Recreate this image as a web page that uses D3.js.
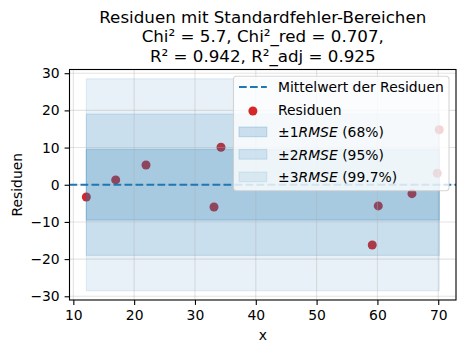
<!DOCTYPE html>
<html>
<head>
<meta charset="utf-8">
<script src="https://cdn.jsdelivr.net/npm/d3@7/dist/d3.min.js"></script>
<style>
	body { margin: 0; background: #fff; }
	svg { display: block; font-family: "DejaVu Sans", sans-serif; }
</style>
</head>
<body>
<svg id="chart"></svg>
<script>
// ------- DATA ------- //
const xValues = [12.14, 16.97, 21.95, 33.13, 34.28, 59.15, 60.14, 65.68, 69.84, 70.17]
const residuals = [-3.3, 1.3, 5.3, -6.0, 10.1, -16.2, -5.7, -2.4, 3.1, 14.8]
const rmse = 9.5
const meanResidual = 0
const bandFactors = [1, 2, 3]
const bandPercents = ['68%', '95%', '99.7%']
const bandAlphas = [0.2, 0.15, 0.1]
const xTicks = [10, 20, 30, 40, 50, 60, 70]
const yTicks = [-30, -20, -10, 0, 10, 20, 30]
const titleLines = [
	'Residuen mit Standardfehler-Bereichen',
	'Chi² = 5.7, Chi²_red = 0.707,',
	'R² = 0.942, R²_adj = 0.925'
]

const width = 466
const height = 353
const margin = { top: 69.5, right: 10, bottom: 53, left: 69.5 }
const blue = '31,119,180'
const red = '#d62728'
const fontSize = 13.9

const svg = d3.select('#chart')
	.attr('width', width)
	.attr('height', height)

const x = d3.scaleLinear().domain([9.37, 72.92]).range([margin.left, width - margin.right])
const y = d3.scaleLinear().domain([-31, 31]).range([height - margin.bottom, margin.top])

const plot = svg.append('g')

// scatter first, bands are painted over it (same as matplotlib zorder)
plot.selectAll('circle.res')
	.data(xValues.map((d, i) => ({ x: d, y: residuals[i] })))
	.enter().append('circle')
	.attr('class', 'res')
	.attr('cx', d => x(d.x))
	.attr('cy', d => y(d.y))
	.attr('r', 4.5)
	.attr('fill', red)

const xMin = d3.min(xValues)
const xMax = d3.max(xValues)
plot.selectAll('rect.band')
	.data(bandFactors)
	.enter().append('rect')
	.attr('class', 'band')
	.attr('x', x(xMin))
	.attr('width', x(xMax) - x(xMin))
	.attr('y', k => y(meanResidual + k * rmse))
	.attr('height', k => y(meanResidual - k * rmse) - y(meanResidual + k * rmse))
	.attr('fill', (k, i) => `rgba(${blue},${bandAlphas[i]})`)
	.attr('stroke', (k, i) => `rgba(${blue},${bandAlphas[i]})`)
	.attr('stroke-width', 1.2)

// grid
const grid = svg.append('g').attr('stroke', '#b0b0b0').attr('stroke-opacity', 0.35).attr('stroke-width', 1.1)
grid.selectAll('line.gx').data(xTicks).enter().append('line')
	.attr('x1', d => x(d)).attr('x2', d => x(d))
	.attr('y1', margin.top).attr('y2', height - margin.bottom)
grid.selectAll('line.gy').data(yTicks).enter().append('line')
	.attr('y1', d => y(d)).attr('y2', d => y(d))
	.attr('x1', margin.left).attr('x2', width - margin.right)

// mean line
svg.append('line')
	.attr('x1', margin.left).attr('x2', width - margin.right)
	.attr('y1', y(meanResidual)).attr('y2', y(meanResidual))
	.attr('stroke', `rgb(${blue})`)
	.attr('stroke-width', 2.1)
	.attr('stroke-dasharray', '7.7,3.3')

// axes
const xAxis = svg.append('g')
	.attr('transform', `translate(0,${height - margin.bottom})`)
	.call(d3.axisBottom(x).tickValues(xTicks).tickSize(4.9).tickPadding(4.9))
const yAxis = svg.append('g')
	.attr('transform', `translate(${margin.left},0)`)
	.call(d3.axisLeft(y).tickValues(yTicks).tickSize(4.9).tickPadding(4.9).tickFormat(d => d < 0 ? '\u2212' + Math.abs(d) : d))
for (const ax of [xAxis, yAxis]) {
	ax.select('.domain').remove()
	ax.selectAll('line').attr('stroke', '#000').attr('stroke-width', 1.1)
	ax.selectAll('text').attr('font-size', fontSize).attr('font-family', 'DejaVu Sans').attr('fill', '#000')
}

svg.append('rect')
	.attr('x', margin.left).attr('y', margin.top)
	.attr('width', width - margin.right - margin.left)
	.attr('height', height - margin.bottom - margin.top)
	.attr('fill', 'none').attr('stroke', '#000').attr('stroke-width', 1.1)

// labels
svg.append('text')
	.attr('x', (margin.left + width - margin.right) / 2)
	.attr('y', 340)
	.attr('text-anchor', 'middle')
	.attr('font-size', fontSize)
	.text('x')
svg.append('text')
	.attr('transform', `translate(22,${(margin.top + height - margin.bottom) / 2}) rotate(-90)`)
	.attr('text-anchor', 'middle')
	.attr('font-size', fontSize)
	.text('Residuen')

svg.append('g').selectAll('text')
	.data(titleLines)
	.enter().append('text')
	.attr('x', (margin.left + width - margin.right) / 2)
	.attr('y', (d, i) => 22.5 + i * 19.5)
	.attr('text-anchor', 'middle')
	.attr('font-size', 16.7)
	.text(d => d)

// ------- LEGEND ------- //
const legend = svg.append('g')
const lgX = 233.5, lgY = 76.2, lgW = 215.5, lgH = 114.5
legend.append('rect')
	.attr('x', lgX).attr('y', lgY).attr('width', lgW).attr('height', lgH)
	.attr('rx', 3).attr('ry', 3)
	.attr('fill', 'rgba(255,255,255,0.8)')
	.attr('stroke', 'rgba(204,204,204,0.8)')
	.attr('stroke-width', 1.1)

const rowY = i => 87 + i * 22.5
const hx0 = 239, hx1 = 266.8, tx = 278

legend.append('line')
	.attr('x1', hx0).attr('x2', hx1)
	.attr('y1', rowY(0)).attr('y2', rowY(0))
	.attr('stroke', `rgb(${blue})`)
	.attr('stroke-width', 2.1)
	.attr('stroke-dasharray', '7.7,3.3')
legend.append('circle')
	.attr('cx', (hx0 + hx1) / 2).attr('cy', rowY(1) + 1.5)
	.attr('r', 4.5).attr('fill', red)
bandFactors.forEach((k, i) => {
	legend.append('rect')
		.attr('x', hx0).attr('y', rowY(i + 2) - 5)
		.attr('width', hx1 - hx0).attr('height', 9.7)
		.attr('fill', `rgba(${blue},${bandAlphas[i]})`)
		.attr('stroke', `rgba(${blue},${bandAlphas[i]})`)
		.attr('stroke-width', 1.2)
})

const labels = legend.selectAll('text.lbl')
	.data([0, 1, 2, 3, 4])
	.enter().append('text')
	.attr('class', 'lbl')
	.attr('x', tx)
	.attr('y', i => rowY(i) + 5)
	.attr('font-size', fontSize)
labels.filter(i => i === 0).text('Mittelwert der Residuen')
labels.filter(i => i === 1).text('Residuen')
labels.filter(i => i >= 2).each(function (i) {
	const t = d3.select(this)
	t.append('tspan').text('\u00b1' + bandFactors[i - 2])
	t.append('tspan').attr('font-style', 'italic').text('RMSE')
	t.append('tspan').text(' (' + bandPercents[i - 2] + ')')
})
</script>
</body>
</html>
